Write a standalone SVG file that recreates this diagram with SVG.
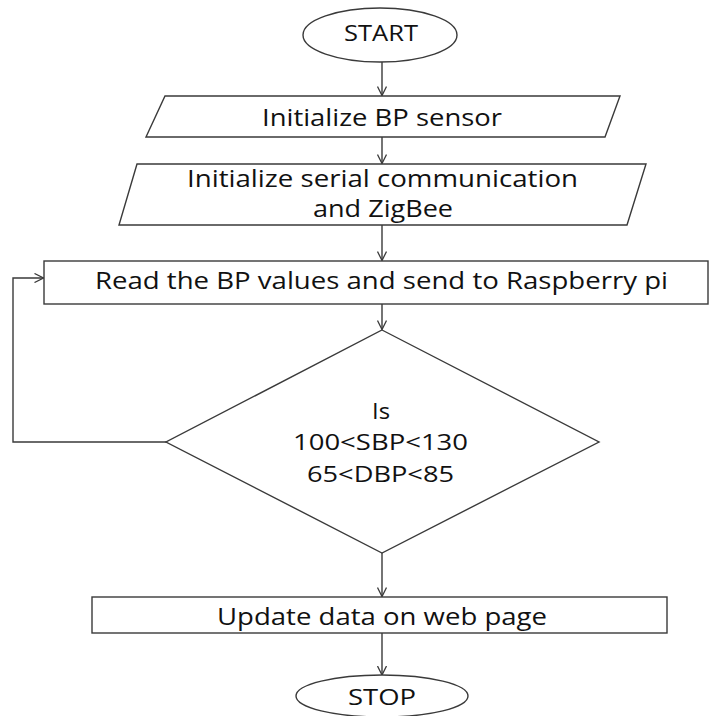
<svg xmlns="http://www.w3.org/2000/svg" width="710" height="716" viewBox="0 0 710 716">
  <defs>
    <marker id="arr" viewBox="0 0 10 10" refX="9.5" refY="5" markerWidth="10" markerHeight="10" markerUnits="userSpaceOnUse" orient="auto">
      <path d="M0.5,0.5 L9.5,5 L0.5,9.5" fill="none" stroke="#3a3a3a" stroke-width="1.3"/>
    </marker>
    <style>
      .shape { fill: #ffffff; stroke: #3a3a3a; stroke-width: 1.4; }
      .conn { fill: none; stroke: #3a3a3a; stroke-width: 1.4; marker-end: url(#arr); }
      .t { font-family: "Open Sans", "Liberation Sans", sans-serif; fill: #111111; text-anchor: middle; }
      .big { font-size: 23.5px; }
      .mid { font-size: 22.5px; }
      .sm { font-size: 21px; }
    </style>
  </defs>
  <rect width="710" height="716" fill="#ffffff"/>

  <g id="connectors">
    <line class="conn" x1="382" y1="62" x2="382" y2="95.5"/>
    <line class="conn" x1="382" y1="137" x2="382" y2="163.5"/>
    <line class="conn" x1="382" y1="225" x2="382" y2="260.5"/>
    <line class="conn" x1="382" y1="304" x2="382" y2="329.5"/>
    <line class="conn" x1="382" y1="553" x2="382" y2="596.5"/>
    <line class="conn" x1="382" y1="633" x2="382" y2="675"/>
    <polyline class="conn" points="166,442 13,442 13,278 43.5,278"/>
  </g>

  <g id="start">
    <ellipse class="shape" cx="380" cy="35" rx="77" ry="27"/>
    <text class="t sm" x="381" y="41" textLength="74" lengthAdjust="spacingAndGlyphs">START</text>
  </g>

  <g id="init-bp">
    <polygon class="shape" points="165,96 620,96 605,137 146,137"/>
    <text class="t big" x="382" y="126" textLength="240" lengthAdjust="spacingAndGlyphs">Initialize BP sensor</text>
  </g>

  <g id="init-serial">
    <polygon class="shape" points="137,164 646,164 627,225 119,225"/>
    <text class="t big" x="382.5" y="187" textLength="391" lengthAdjust="spacingAndGlyphs">Initialize serial communication</text>
    <text class="t big" x="383" y="217" textLength="140" lengthAdjust="spacingAndGlyphs">and ZigBee</text>
  </g>

  <g id="read-bp">
    <rect class="shape" x="44" y="261" width="664" height="43"/>
    <text class="t big" x="381.5" y="289" textLength="573" lengthAdjust="spacingAndGlyphs">Read the BP values and send to Raspberry pi</text>
  </g>

  <g id="decision">
    <polygon class="shape" points="382,330 599,442 382,553 166,442"/>
    <text class="t mid" x="381" y="419" textLength="18" lengthAdjust="spacingAndGlyphs">Is</text>
    <text class="t mid" x="380.5" y="450" textLength="175" lengthAdjust="spacingAndGlyphs">100&lt;SBP&lt;130</text>
    <text class="t mid" x="380.5" y="482" textLength="147" lengthAdjust="spacingAndGlyphs">65&lt;DBP&lt;85</text>
  </g>

  <g id="update">
    <rect class="shape" x="92" y="597" width="575" height="36"/>
    <text class="t big" x="382" y="625" textLength="330" lengthAdjust="spacingAndGlyphs">Update data on web page</text>
  </g>

  <g id="stop">
    <ellipse class="shape" cx="382" cy="696" rx="86" ry="21"/>
    <text class="t sm" x="382" y="705" textLength="68" lengthAdjust="spacingAndGlyphs">STOP</text>
  </g>
</svg>
